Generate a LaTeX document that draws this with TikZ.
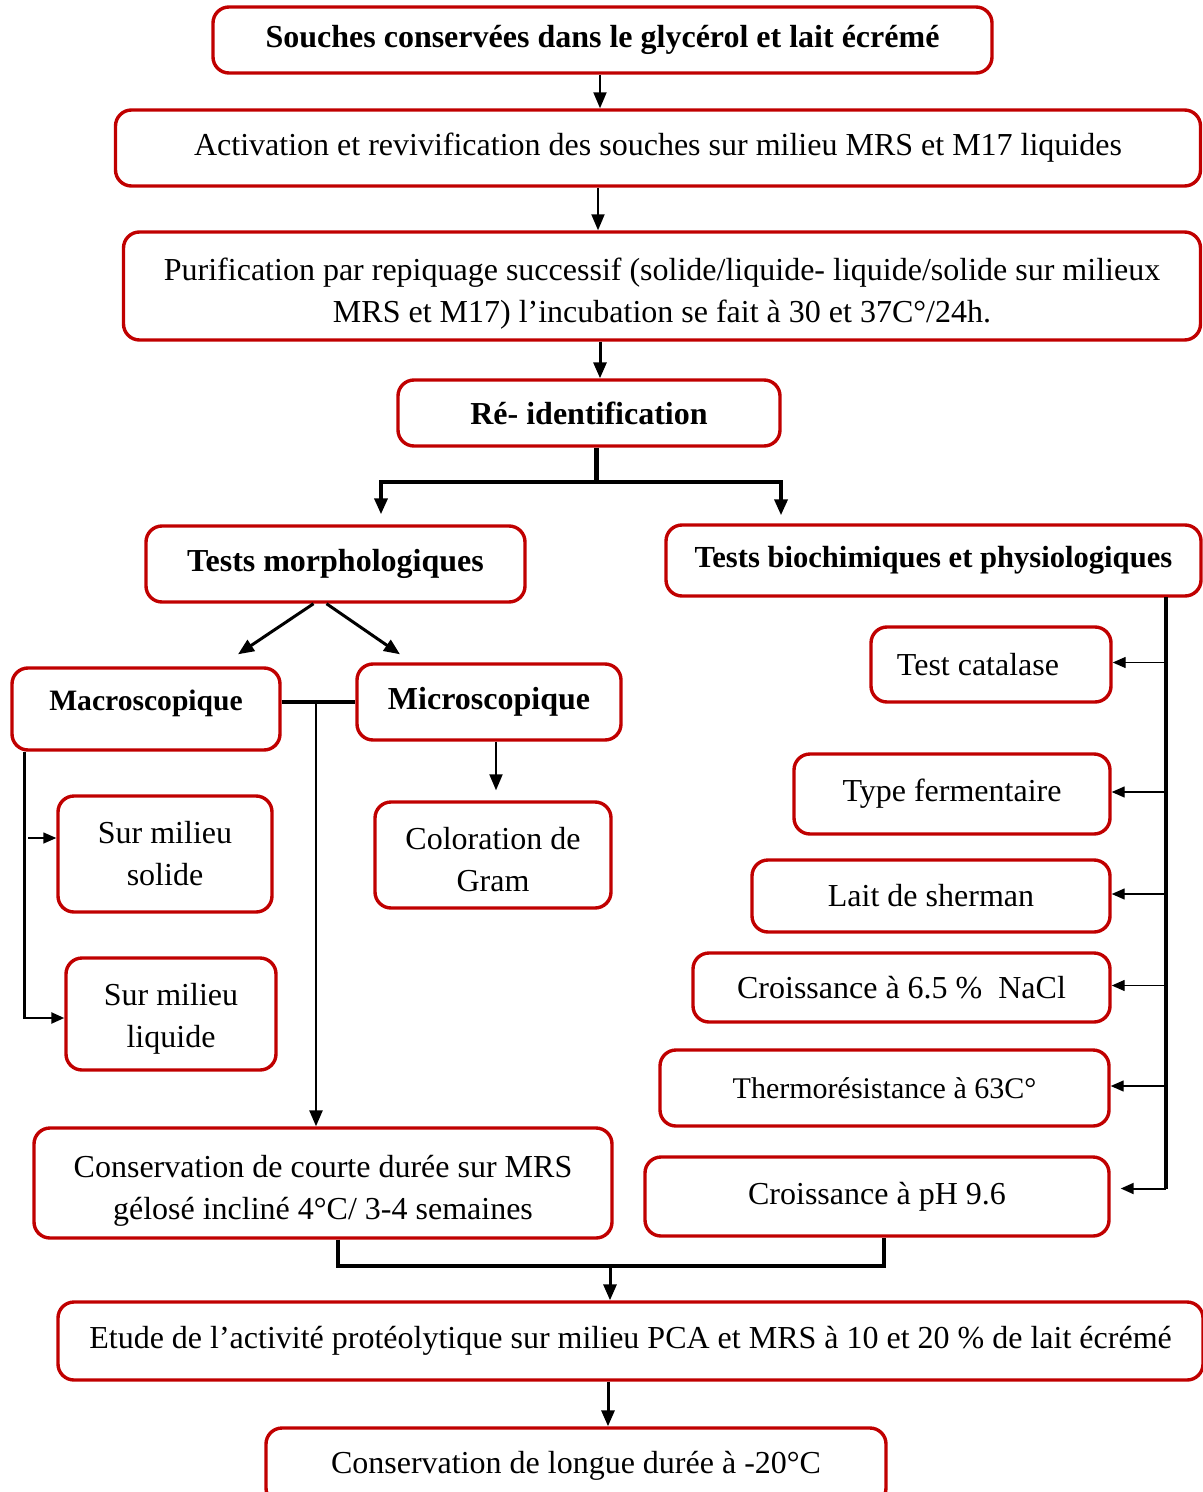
\documentclass[tikz,border=0pt]{standalone}
\usepackage{fontspec}
\setmainfont{Liberation Serif}
\usepackage{xcolor}
\usetikzlibrary{arrows.meta, positioning}
\definecolor{boxred}{HTML}{C00000}
\tikzset{
  box/.style={rectangle, draw=boxred, line width=1.7pt, rounded corners=8pt, align=center,
    inner sep=0pt, font=\fontsize{16pt}{21pt}\selectfont},
  boldbox/.style={box, font=\fontsize{16pt}{21pt}\selectfont\bfseries},
  boxsize/.style 2 args={minimum width=#1*0.5pt, minimum height=#2*0.5pt},
  arrow/.style={-{Triangle[length=8pt, width=6.5pt]}, line width=1pt},
  sidearrow/.style={-{Triangle[length=6.5pt, width=5.5pt]}, line width=0.7pt},
  thickline/.style={line width=2pt},
}

\begin{document}
\begin{tikzpicture}[x=0.5pt, y=-0.5pt]
    \useasboundingbox (0,0) rectangle (1203,1492);
    % main column
    \node[boldbox, boxsize={779}{66}] (souches) at (602.5,40) {Souches conservées dans le glycérol et lait écrémé};
    \node[box, boxsize={1085}{76}] (activ) at (658,148) {Activation et revivification des souches sur milieu MRS et M17 liquides};
    \node[box, boxsize={1077}{108}] (purif) at (662,286) {\rule{0pt}{19pt}Purification par repiquage successif (solide/liquide- liquide/solide sur milieux\\MRS et M17) l’incubation se fait à 30 et 37C°/24h.};
    \node[boldbox, boxsize={382}{66}] (reid) at (589,413) {Ré- identification};
    \node[boldbox, boxsize={379}{76}] (morpho) at (335.5,564) {Tests morphologiques};
    \node[boldbox, boxsize={535}{71}, font=\fontsize{15.3pt}{20pt}\selectfont\bfseries] (biochim) at (933.5,560.5) {Tests biochimiques et physiologiques};
    % morphological tests
    \node[boldbox, boxsize={268}{82}, font=\fontsize{14.8pt}{20pt}\selectfont\bfseries] (macro) at (146,709) {Macroscopique\rule[-9pt]{0pt}{0pt}};
    \node[boldbox, boxsize={264}{76}] (micro) at (489,702) {Microscopique};
    \node[box, boxsize={214}{116}] (solide) at (165,854) {Sur milieu\\solide};
    \node[box, boxsize={210}{112}] (liquide) at (171,1014) {\rule{0pt}{16pt}Sur milieu\\liquide};
    \node[box, boxsize={236}{106}] (gram) at (493,855) {\rule{0pt}{16pt}Coloration de\\Gram};
    % biochemical tests
    \node[box, boxsize={240}{75}] (catalase) at (991,664.5) {Test catalase\hspace{13pt}};
    \node[box, boxsize={316}{80}] (ferment) at (952,794) {Type fermentaire};
    \node[box, boxsize={358}{72}] (sherman) at (931,896) {Lait de sherman};
    \node[box, boxsize={417}{69}] (nacl) at (901.5,987.5) {Croissance à 6.5 \%~ NaCl};
    \node[box, boxsize={449}{76}, font=\fontsize{15pt}{20pt}\selectfont] (thermo) at (884.5,1088) {Thermorésistance à 63C°};
    \node[box, boxsize={464}{79}] (ph) at (877,1196.5) {Croissance à pH 9.6};
    % conservation
    \node[box, boxsize={578}{110}] (courte) at (323,1183) {\rule{0pt}{19pt}Conservation de courte durée sur MRS\\gélosé incliné 4°C/ 3-4 semaines};
    \node[box, boxsize={1145}{78}] (etude) at (630.5,1341) {Etude de l’activité protéolytique sur milieu PCA et MRS à 10 et 20 \% de lait écrémé};
    \node[box, boxsize={620}{76}] (longue) at (576,1466) {Conservation de longue durée à -20°C};
    % branch points
    \coordinate (spine) at (600,0);
    \coordinate (split) at (596,482);
    \coordinate (mleft) at (381,482);
    \coordinate (mright) at (781,482);
    \coordinate (mid) at (316,702);
    \coordinate (bspine) at (1166,597);
    \coordinate (merge) at (610,1266);
    % connectors
    \draw[arrow] (spine |- souches.south) -- (spine |- activ.north);
    \draw[arrow] ([xshift=-1pt]spine |- activ.south) -- ([xshift=-1pt]spine |- purif.north);
    \draw[arrow, line width=1.5pt] (spine |- purif.south) -- (spine |- reid.north);
    \draw[thickline, line width=2.5pt] (split |- reid.south) -- (split);
    \draw[arrow, line width=1.8pt] (split) -- (mleft) -- ([yshift=5pt]mleft |- morpho.north);
    \draw[arrow, line width=1.8pt] (split) -- (mright) -- ([yshift=4pt]mright |- biochim.north);
    \draw[arrow, line width=1.5pt] ([xshift=-11pt]morpho.south) -- ([xshift=46pt,yshift=6pt]macro.north);
    \draw[arrow, line width=1.5pt] ([xshift=-4.5pt]morpho.south) -- ([xshift=-44.5pt,yshift=4pt]micro.north);
    \draw[thickline] (macro.east |- mid) -- (micro.west |- mid);
    \draw[arrow, line width=1.3pt] (mid) -- (mid |- courte.north);
    \draw[sidearrow, line width=1.2pt] ([xshift=7pt]macro.south west) |- ([yshift=-2pt]liquide.west);
    \draw[sidearrow] ([xshift=-14pt,yshift=8pt]solide.west) -- ([yshift=8pt]solide.west);
    \draw[arrow] ([xshift=3.5pt]micro.south) -- ([xshift=3.5pt,yshift=5pt]micro.south |- gram.north);
    \draw[thickline] (bspine) -- ([yshift=4pt]bspine |- ph.east);
    \foreach \t in {catalase,ferment,sherman,nacl,thermo}
      \draw[sidearrow] ([yshift=1pt]bspine |- \t.east) -- ([yshift=1pt]\t.east);
    \draw[sidearrow, line width=1pt] ([yshift=4pt]bspine |- ph.east) -- ([xshift=5pt,yshift=4pt]ph.east);
    \draw[thickline] ([xshift=7.5pt]courte.south) |- ([xshift=3.5pt]ph.south |- merge) -- ([xshift=3.5pt]ph.south);
    \draw[arrow, line width=1.5pt] (merge) -- (merge |- etude.north);
    \draw[arrow, line width=1.5pt] ([xshift=-1pt]merge |- etude.south) -- ([xshift=-1pt]merge |- longue.north);
\end{tikzpicture}
\end{document}
